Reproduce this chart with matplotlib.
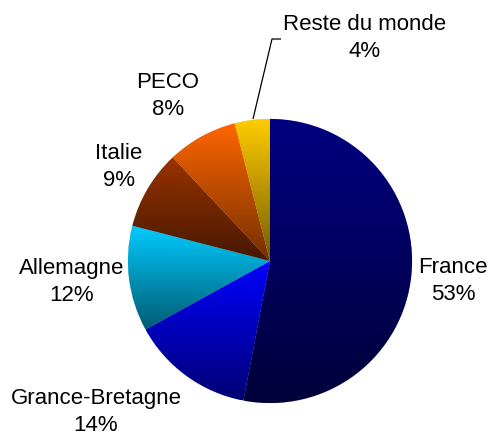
import matplotlib
matplotlib.use('Agg')
import matplotlib.pyplot as plt
import numpy as np
from matplotlib.colors import to_rgb

# --- Data ---
labels = ["France", "Grance-Bretagne", "Allemagne", "Italie", "PECO", "Reste du monde"]
shares = [53, 14, 12, 9, 8, 4]
colors = ["#000080", "#0000FF", "#00CCFF", "#993300", "#FF6600", "#FFCC00"]

W, H = 490, 435
fig = plt.figure(figsize=(W / 100, H / 100), dpi=100)
ax = fig.add_axes([0, 0, 1, 1])

cx, cy, r = 270, H - 262, 142

wedges, _ = ax.pie(shares, colors=colors, startangle=90, counterclock=False,
                   center=(cx, cy), radius=r, frame=True,
                   wedgeprops=dict(linewidth=0.4, edgecolor='#dddddd'))

# vertical gradient inside each slice: full colour on top, darker at bottom
for w, c in zip(wedges, colors):
    t = np.linspace(np.radians(w.theta2), np.radians(w.theta1), 200)
    xs = np.concatenate([[cx], cx + r * np.cos(t)])
    ys = np.concatenate([[cy], cy + r * np.sin(t)])
    y0, y1 = ys.min(), ys.max()
    base = np.array(to_rgb(c))
    f = np.linspace(0.45, 1.0, 256)[:, None]
    img = (f * base)[:, None, :]
    im = ax.imshow(img, extent=[xs.min(), xs.max(), y0, y1], origin='lower',
                   aspect='auto', interpolation='bilinear', zorder=w.get_zorder() + 0.1)
    im.set_clip_path(w)

ax.set_xlim(0, W)
ax.set_ylim(0, H)
ax.set_aspect('equal')
ax.axis('off')

# --- Labels ---
label_pos = {
    "France": (453, 281),
    "Grance-Bretagne": (96, 412),
    "Allemagne": (72, 282),
    "Italie": (119, 167),
    "PECO": (168, 96),
    "Reste du monde": (365, 38),
}
for lab, s in zip(labels, shares):
    x, y = label_pos[lab]
    ax.text(x, H - y, f"{lab}\n{s}%", ha='center', va='center', fontsize=16,
            family='Liberation Sans', linespacing=1.4, color='black')

# leader line for "Reste du monde"
ax.plot([281, 272, 253], [H - 40, H - 40, H - 120], color='black', lw=0.9,
        solid_capstyle='butt')

fig.savefig("out.png", dpi=100, facecolor='white')
